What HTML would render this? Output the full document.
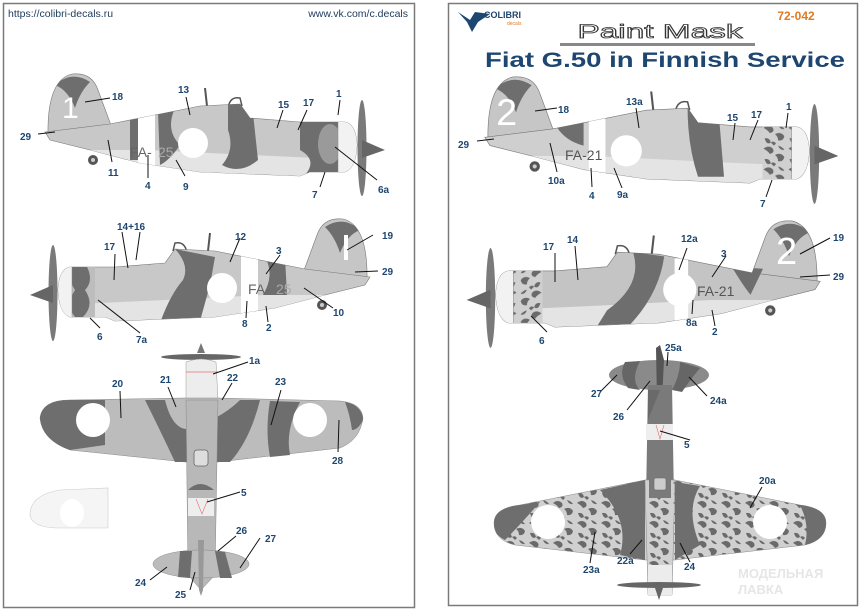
<!DOCTYPE html>
<html><head><meta charset="utf-8"><style>
html,body{margin:0;padding:0;background:#fff;}
svg{display:block;}
.l{font-family:"Liberation Sans",sans-serif;font-weight:bold;font-size:10px;fill:#1d4670;}
.ln{stroke:#111;stroke-width:1;}
</style></head><body>
<svg width="861" height="611" viewBox="0 0 861 611" xmlns="http://www.w3.org/2000/svg">
<defs>
  <path id="fus" d="M45,132 L110,124 L150,116 L200,106 L240,104 L250,118 L300,122 L345,122 Q356,124 357,145 Q356,168 345,172 L310,172 L300,176 L200,172 L140,163 L90,150 L50,140 Z"/>
  <path id="fin" d="M48,135 Q47,80 72,74 Q92,72 98,90 L112,128 Z"/>
  <clipPath id="cf"><use href="#fus"/><use href="#fin"/></clipPath>
  <pattern id="mot" width="24" height="20" patternUnits="userSpaceOnUse">
    <rect width="24" height="20" fill="#d0d0d0"/>
    <path d="M1,3 q5,-4 9,0 q2,4 -3,5 q-2,-3 -6,-5z M12,9 q6,-3 9,2 q-1,5 -6,4 q0,-4 -3,-6z M2,13 q5,-1 6,4 q-4,3 -6,-4z M15,0 q4,1 6,4 q-4,1 -6,-4z M8,17 q3,-2 5,1 l-2,2z" fill="#6a6a6a"/>
  </pattern>
</defs>

<rect x="3.5" y="3.5" width="411" height="604" fill="#fff" stroke="#7a7a7a" stroke-width="1.5"/>
<rect x="448.5" y="3.5" width="409" height="602" fill="#fff" stroke="#7a7a7a" stroke-width="1.5"/>

<text x="8" y="17" font-family="Liberation Sans,sans-serif" font-size="10.5" fill="#1d3a5a">https://colibri-decals.ru</text>
<text x="408" y="17" text-anchor="end" font-family="Liberation Sans,sans-serif" font-size="10.5" fill="#1d3a5a">www.vk.com/c.decals</text>

<!-- LEFT side view 1 -->
<g>
  <ellipse cx="362" cy="148" rx="4.5" ry="48" fill="#7a7a7a"/>
  <polygon points="362,140 385,150 362,158" fill="#666"/>
  <line x1="205" y1="88" x2="207" y2="106" stroke="#555" stroke-width="2"/>
  <path d="M228,108 Q230,96 240,98 L242,106" fill="none" stroke="#555" stroke-width="1.5"/>
  <circle cx="93" cy="160" r="5" fill="#555"/><circle cx="93" cy="160" r="2" fill="#ccc"/>
  <use href="#fin" fill="#c6c6c6" stroke="#777" stroke-width="0.6"/>
  <use href="#fus" fill="#c8c8c8" stroke="#777" stroke-width="0.6"/>
  <g clip-path="url(#cf)">
    <path d="M40,150 L180,172 L300,178 L360,174 L360,160 L250,155 L150,150 Z" fill="#e4e4e4"/>
    <path d="M55,85 Q72,70 90,82 Q80,92 75,108 Q68,90 55,85Z" fill="#6e6e6e"/>
    <rect x="130" y="110" width="10" height="50" fill="#6e6e6e"/>
    <path d="M158,112 L175,108 Q165,130 180,145 Q170,160 160,165 Z" fill="#6e6e6e"/>
    <path d="M228,104 L252,104 L258,160 Q240,175 222,165 Q235,150 228,130 Z" fill="#6e6e6e"/>
    <path d="M300,118 L345,118 L345,172 L305,175 Q318,160 300,150 Z" fill="#6e6e6e"/>
    <ellipse cx="330" cy="144" rx="12" ry="20" fill="#9a9a9a"/>
    <rect x="338" y="118" width="20" height="60" fill="#f2f2f2" stroke="#888" stroke-width="0.5"/>
    <rect x="138" y="110" width="17" height="65" fill="#fff"/>
  </g>
  <circle cx="193" cy="143" r="15" fill="#fff"/>
  <text x="62" y="118" font-family="Liberation Sans,sans-serif" font-size="30" fill="#fff">1</text>
</g>
<text x="130" y="157" font-family="Liberation Sans,sans-serif" font-size="14" fill="#666">FA-</text>
<text x="158" y="157" font-family="Liberation Sans,sans-serif" font-size="14" fill="#aaa">25</text>

<!-- LEFT side view 2 -->
<g transform="translate(415,145) scale(-1,1)">
  <ellipse cx="362" cy="148" rx="4.5" ry="48" fill="#7a7a7a"/>
  <polygon points="362,140 385,150 362,158" fill="#666"/>
  <line x1="205" y1="88" x2="207" y2="106" stroke="#555" stroke-width="2"/>
  <path d="M228,108 Q230,96 240,98 L242,106" fill="none" stroke="#555" stroke-width="1.5"/>
  <circle cx="93" cy="160" r="5" fill="#555"/><circle cx="93" cy="160" r="2" fill="#ccc"/>
  <use href="#fin" fill="#c6c6c6" stroke="#777" stroke-width="0.6"/>
  <use href="#fus" fill="#c8c8c8" stroke="#777" stroke-width="0.6"/>
  <g clip-path="url(#cf)">
    <path d="M40,150 L180,172 L300,178 L360,174 L360,160 L250,155 L150,150 Z" fill="#e4e4e4"/>
    <path d="M55,85 Q72,70 90,82 Q80,92 75,108 Q68,90 55,85Z" fill="#6e6e6e"/>
    <path d="M130,112 L150,112 Q140,130 152,150 L128,150 Z" fill="#6e6e6e"/>
    <path d="M200,112 L240,104 Q225,120 232,135 Q245,150 255,178 L215,176 L205,140 Z" fill="#6e6e6e"/>
    <path d="M250,104 L290,108 Q270,112 265,120 Z" fill="#6e6e6e"/>
    <rect x="320" y="118" width="25" height="55" fill="#bdbdbd"/>
    <path d="M330,118 Q320,135 330,145 Q320,160 332,172 L340,172 Q350,160 340,145 Q350,130 340,118Z" fill="#6e6e6e"/>
    <rect x="343" y="118" width="16" height="60" fill="#f2f2f2" stroke="#888" stroke-width="0.5"/>
    <rect x="157" y="110" width="17" height="65" fill="#fff"/>
  </g>
  <circle cx="193" cy="143" r="15" fill="#fff"/>
  <rect x="67" y="90" width="4" height="25" fill="#fff"/>
</g>
<text x="248" y="294" font-family="Liberation Sans,sans-serif" font-size="14" fill="#666">FA-</text>
<text x="276" y="294" font-family="Liberation Sans,sans-serif" font-size="14" fill="#aaa">25</text>

<!-- LEFT top view -->
<ellipse cx="201" cy="357" rx="40" ry="3" fill="#666"/>
<polygon points="197,353 201,343 205,353" fill="#777"/>
<path d="M186,362 Q201,356 216,362 L218,400 L186,400 Z" fill="#ededed" stroke="#999" stroke-width="0.5"/>
<line x1="186" y1="372" x2="218" y2="372" stroke="#e07070" stroke-width="0.8"/>
<path d="M40,418 Q42,400 70,400 L185,398 L218,398 L340,401 Q362,403 363,418 Q360,440 340,448 L218,462 L185,462 L70,450 Q42,440 40,418 Z" fill="#bcbcbc" stroke="#888" stroke-width="0.5"/>
<path d="M40,418 Q42,400 70,400 L105,400 L105,445 L70,450 Q42,440 40,418Z" fill="#6e6e6e"/>
<path d="M145,400 L165,400 Q175,440 200,425 Q225,415 240,400 L260,400 Q250,440 230,462 L175,462 Q160,430 145,400Z" fill="#6e6e6e"/>
<path d="M270,401 L300,402 Q285,430 290,455 L270,457 Q265,430 270,401Z" fill="#6e6e6e"/>
<path d="M345,402 Q362,405 363,420 Q358,430 352,430 Q350,415 345,402Z" fill="#6e6e6e"/>
<path d="M186,400 L218,400 L215,575 L201,590 L188,575 Z" fill="#b8b8b8" stroke="#888" stroke-width="0.5"/>
<rect x="194" y="450" width="14" height="16" rx="3" fill="#ddd" stroke="#666" stroke-width="0.8"/>
<path d="M188,490 Q200,478 214,490 Z" fill="#6e6e6e"/>
<rect x="188" y="498" width="26" height="18" fill="#eee"/>
<path d="M196,499 L202,514 L208,499" fill="none" stroke="#e07070" stroke-width="0.6"/>
<ellipse cx="201" cy="564" rx="48" ry="14" fill="#bcbcbc" stroke="#888" stroke-width="0.5"/>
<path d="M180,551 L192,551 L190,578 L178,577 Z M215,551 L225,552 L232,578 L220,578Z" fill="#6e6e6e"/>
<polygon points="198,540 204,540 203,590 201,596 199,590" fill="#999"/>
<circle cx="93" cy="420" r="17" fill="#fff"/>
<circle cx="310" cy="420" r="17" fill="#fff"/>
<path d="M30,515 Q30,495 60,490 L108,488 L108,528 L60,528 Q32,528 30,515Z" fill="#f5f5f5" stroke="#ccc" stroke-width="0.6"/>
<ellipse cx="72" cy="513" rx="12" ry="14" fill="#fff"/>

<!-- RIGHT header -->
<path d="M458,12 L470,20 L475,12 L490,14 L478,22 L472,32 L467,22 Z" fill="#1d4670"/>
<text x="484" y="18" font-family="Liberation Sans,sans-serif" font-weight="bold" font-size="9" fill="#1d4670">COLIBRI</text>
<text x="507" y="25" font-family="Liberation Sans,sans-serif" font-size="5" fill="#e07a20">decals</text>
<text x="796" y="20" text-anchor="middle" font-family="Liberation Sans,sans-serif" font-weight="bold" font-size="12" fill="#e07a20">72-042</text>
<text x="660" y="38" text-anchor="middle" font-family="Liberation Sans,sans-serif" font-size="19" fill="#fff" stroke="#333" stroke-width="0.8" textLength="165" lengthAdjust="spacingAndGlyphs">Paint Mask</text>
<rect x="560" y="43" width="195" height="3" fill="#888"/>
<text x="485" y="67" font-family="Liberation Sans,sans-serif" font-weight="bold" font-size="21" fill="#1d4670" textLength="360" lengthAdjust="spacingAndGlyphs">Fiat G.50 in Finnish Service</text>

<!-- RIGHT side view 1 -->
<g transform="translate(438,0) scale(1.04)">
  <ellipse cx="362" cy="148" rx="4.5" ry="48" fill="#7a7a7a"/>
  <polygon points="362,140 385,150 362,158" fill="#666"/>
  <line x1="205" y1="88" x2="207" y2="106" stroke="#555" stroke-width="2"/>
  <path d="M228,108 Q230,96 240,98 L242,106" fill="none" stroke="#555" stroke-width="1.5"/>
  <circle cx="93" cy="160" r="5" fill="#555"/><circle cx="93" cy="160" r="2" fill="#ccc"/>
  <use href="#fin" fill="#c6c6c6" stroke="#777" stroke-width="0.6"/>
  <use href="#fus" fill="#cfcfcf" stroke="#777" stroke-width="0.6"/>
  <g clip-path="url(#cf)">
    <path d="M40,150 L180,172 L300,178 L360,174 L360,160 L250,155 L150,150 Z" fill="#e4e4e4"/>
    <path d="M55,85 Q72,70 90,82 Q80,92 75,108 Q68,90 55,85Z" fill="#6e6e6e"/>
    <path d="M112,118 L140,115 L140,140 Q120,135 112,118Z" fill="#6e6e6e"/>
    <path d="M240,104 L270,110 L275,170 L250,170 Q240,140 240,104Z" fill="#6e6e6e"/>
    <rect x="145" y="110" width="16" height="65" fill="#fff"/>
    <rect x="312" y="118" width="32" height="58" fill="url(#mot)"/>
    <rect x="340" y="118" width="20" height="60" fill="#f2f2f2" stroke="#888" stroke-width="0.5"/>
  </g>
  <circle cx="181" cy="145" r="15" fill="#fff"/>
  <text x="56" y="120" font-family="Liberation Sans,sans-serif" font-size="36" fill="#fff">2</text>
</g>
<text x="565" y="160" font-family="Liberation Sans,sans-serif" font-size="14" fill="#555">FA-21</text>

<!-- RIGHT side view 2 -->
<g transform="translate(867,144) scale(-1.04,1.04)">
  <ellipse cx="362" cy="148" rx="4.5" ry="48" fill="#7a7a7a"/>
  <polygon points="362,140 385,150 362,158" fill="#666"/>
  <line x1="205" y1="88" x2="207" y2="106" stroke="#555" stroke-width="2"/>
  <path d="M228,108 Q230,96 240,98 L242,106" fill="none" stroke="#555" stroke-width="1.5"/>
  <circle cx="93" cy="160" r="5" fill="#555"/><circle cx="93" cy="160" r="2" fill="#ccc"/>
  <use href="#fin" fill="#c6c6c6" stroke="#777" stroke-width="0.6"/>
  <use href="#fus" fill="#c4c4c4" stroke="#777" stroke-width="0.6"/>
  <g clip-path="url(#cf)">
    <path d="M40,150 L180,172 L300,178 L360,174 L360,160 L250,155 L150,150 Z" fill="#e4e4e4"/>
    <path d="M55,85 Q72,70 90,82 Q80,92 75,108 Q68,90 55,85Z" fill="#6e6e6e"/>
    <path d="M100,120 L130,118 Q120,135 112,145 Z" fill="#6e6e6e"/>
    <path d="M195,108 L225,104 Q215,135 250,160 L260,176 L230,176 Q200,145 195,108Z" fill="#6e6e6e"/>
    <path d="M255,104 L280,112 L275,120 Z" fill="#6e6e6e"/>
    <rect x="172" y="110" width="13" height="65" fill="#fff"/>
    <rect x="312" y="118" width="32" height="58" fill="url(#mot)"/>
    <rect x="340" y="118" width="20" height="60" fill="#f2f2f2" stroke="#888" stroke-width="0.5"/>
  </g>
  <circle cx="180" cy="140" r="16" fill="#fff"/>
</g>
<text x="776" y="264" font-family="Liberation Sans,sans-serif" font-size="38" fill="#fff">2</text>
<text x="697" y="296" font-family="Liberation Sans,sans-serif" font-size="14" fill="#555">FA-21</text>

<!-- RIGHT underside view -->
<ellipse cx="659" cy="375" rx="50" ry="15" fill="#8a8a8a"/>
<path d="M625,362 L640,361 Q630,380 640,390 L628,388 Q618,375 625,362Z M680,362 L700,368 Q690,380 682,392 L672,390 Q680,375 680,362Z" fill="#666"/>
<polygon points="656,348 660,345 664,360 662,400 657,400" fill="#555"/>
<path d="M648,385 L672,385 L674,500 L646,500 Z" fill="#7a7a7a"/>
<path d="M648,390 L660,390 L648,420Z" fill="#6a6a6a"/>
<rect x="646" y="424" width="27" height="16" fill="#eee"/>
<path d="M656,425 L660,439 L664,425" fill="none" stroke="#e07070" stroke-width="0.6"/>
<path d="M494,523 Q494,508 520,505 L645,480 L675,480 L800,505 Q826,508 826,523 Q826,540 805,545 L675,560 L645,560 L515,545 Q494,540 494,523Z" fill="url(#mot)" stroke="#888" stroke-width="0.5"/>
<path d="M494,523 Q494,508 520,505 L540,502 Q520,525 505,540 Q494,535 494,523Z" fill="#6e6e6e"/>
<path d="M600,490 L645,480 L645,560 L620,555 Q630,520 600,490Z" fill="#6e6e6e"/>
<path d="M675,482 L700,486 Q685,510 700,545 L675,560Z" fill="#6e6e6e"/>
<path d="M800,505 Q826,508 826,523 Q826,540 805,545 Q810,525 800,505Z" fill="#6e6e6e"/>
<path d="M645,480 L675,480 L672,595 L648,595 Z" fill="url(#mot)" stroke="#888" stroke-width="0.5"/>
<rect x="649" y="478" width="22" height="20" fill="#7a7a7a"/>
<rect x="654" y="478" width="12" height="12" rx="2" fill="#ccc" stroke="#666" stroke-width="0.6"/>
<rect x="648" y="565" width="24" height="30" fill="#ececec"/>
<ellipse cx="659" cy="585" rx="42" ry="3" fill="#666"/>
<polygon points="655,588 659,600 663,588" fill="#666"/>
<circle cx="548" cy="522" r="17" fill="#fff"/>
<circle cx="770" cy="522" r="17" fill="#fff"/>
<text x="738" y="578" font-family="Liberation Sans,sans-serif" font-weight="bold" font-size="13" fill="#e6e6e6">МОДЕЛЬНАЯ</text>
<text x="738" y="594" font-family="Liberation Sans,sans-serif" font-weight="bold" font-size="13" fill="#e6e6e6">ЛАВКА</text>

<g class="ln">
<line x1="110" y1="98" x2="85" y2="102"/><line x1="38" y1="134" x2="55" y2="132"/>
<line x1="112" y1="162" x2="108" y2="140"/><line x1="148" y1="178" x2="148" y2="155"/>
<line x1="185" y1="176" x2="176" y2="160"/><line x1="186" y1="97" x2="190" y2="115"/>
<line x1="283" y1="110" x2="277" y2="128"/><line x1="307" y1="110" x2="298" y2="130"/>
<line x1="340" y1="100" x2="338" y2="115"/><line x1="377" y1="180" x2="335" y2="147"/>
<line x1="320" y1="187" x2="325" y2="172"/>
<line x1="122" y1="232" x2="128" y2="268"/><line x1="140" y1="232" x2="136" y2="260"/>
<line x1="115" y1="254" x2="114" y2="280"/><line x1="240" y1="238" x2="230" y2="262"/>
<line x1="280" y1="255" x2="266" y2="274"/><line x1="373" y1="235" x2="347" y2="250"/>
<line x1="378" y1="271" x2="355" y2="272"/><line x1="333" y1="308" x2="304" y2="288"/>
<line x1="246" y1="318" x2="247" y2="301"/><line x1="268" y1="322" x2="266" y2="306"/>
<line x1="100" y1="328" x2="90" y2="318"/><line x1="140" y1="333" x2="98" y2="300"/>
<line x1="248" y1="362" x2="213" y2="374"/><line x1="120" y1="391" x2="121" y2="418"/>
<line x1="168" y1="387" x2="176" y2="407"/><line x1="232" y1="383" x2="222" y2="400"/>
<line x1="281" y1="390" x2="271" y2="425"/><line x1="339" y1="420" x2="338" y2="452"/>
<line x1="240" y1="492" x2="207" y2="502"/><line x1="236" y1="536" x2="218" y2="551"/>
<line x1="260" y1="538" x2="240" y2="568"/><line x1="150" y1="580" x2="167" y2="567"/>
<line x1="190" y1="590" x2="195" y2="572"/>
<line x1="557" y1="108" x2="535" y2="111"/><line x1="477" y1="141" x2="494" y2="139"/>
<line x1="557" y1="172" x2="550" y2="143"/><line x1="592" y1="187" x2="591" y2="168"/>
<line x1="622" y1="188" x2="614" y2="168"/><line x1="636" y1="108" x2="639" y2="128"/>
<line x1="735" y1="123" x2="733" y2="140"/><line x1="758" y1="120" x2="750" y2="140"/>
<line x1="788" y1="113" x2="786" y2="128"/><line x1="766" y1="197" x2="772" y2="180"/>
<line x1="555" y1="253" x2="555" y2="282"/><line x1="575" y1="246" x2="578" y2="280"/>
<line x1="687" y1="248" x2="679" y2="270"/><line x1="726" y1="256" x2="712" y2="277"/>
<line x1="830" y1="238" x2="800" y2="254"/><line x1="830" y1="275" x2="800" y2="277"/>
<line x1="692" y1="314" x2="693" y2="300"/><line x1="715" y1="326" x2="712" y2="310"/>
<line x1="547" y1="332" x2="531" y2="316"/>
<line x1="668" y1="352" x2="667" y2="366"/><line x1="600" y1="392" x2="617" y2="375"/>
<line x1="627" y1="410" x2="650" y2="381"/><line x1="707" y1="396" x2="689" y2="377"/>
<line x1="690" y1="440" x2="660" y2="431"/><line x1="762" y1="487" x2="750" y2="508"/>
<line x1="590" y1="563" x2="595" y2="532"/><line x1="630" y1="554" x2="642" y2="540"/>
<line x1="690" y1="562" x2="680" y2="543"/>
</g>

<g class="l">
<text x="112" y="100">18</text><text x="20" y="140">29</text><text x="108" y="176">11</text>
<text x="145" y="189">4</text><text x="183" y="190">9</text><text x="178" y="93">13</text>
<text x="278" y="108">15</text><text x="303" y="106">17</text><text x="336" y="97">1</text>
<text x="378" y="193">6a</text><text x="312" y="198">7</text>
<text x="117" y="230">14+16</text><text x="104" y="250">17</text><text x="235" y="240">12</text>
<text x="276" y="254">3</text><text x="382" y="239">19</text><text x="382" y="275">29</text>
<text x="333" y="316">10</text><text x="242" y="327">8</text><text x="266" y="331">2</text>
<text x="97" y="340">6</text><text x="136" y="343">7a</text>
<text x="249" y="364">1a</text><text x="112" y="387">20</text><text x="160" y="383">21</text>
<text x="227" y="381">22</text><text x="275" y="385">23</text><text x="332" y="464">28</text>
<text x="241" y="496">5</text><text x="236" y="534">26</text><text x="265" y="542">27</text>
<text x="135" y="586">24</text><text x="175" y="598">25</text>
<text x="558" y="113">18</text><text x="458" y="148">29</text><text x="548" y="184">10a</text>
<text x="589" y="199">4</text><text x="617" y="198">9a</text><text x="626" y="105">13a</text>
<text x="727" y="121">15</text><text x="751" y="118">17</text><text x="786" y="110">1</text>
<text x="760" y="207">7</text>
<text x="543" y="250">17</text><text x="567" y="243">14</text><text x="681" y="242">12a</text>
<text x="721" y="257">3</text><text x="833" y="241">19</text><text x="833" y="280">29</text>
<text x="686" y="326">8a</text><text x="712" y="335">2</text><text x="539" y="344">6</text>
<text x="665" y="351">25a</text><text x="591" y="397">27</text><text x="613" y="420">26</text>
<text x="710" y="404">24a</text><text x="684" y="448">5</text><text x="759" y="484">20a</text>
<text x="583" y="573">23a</text><text x="617" y="564">22a</text><text x="684" y="570">24</text>
</g>
</svg>
</body></html>
